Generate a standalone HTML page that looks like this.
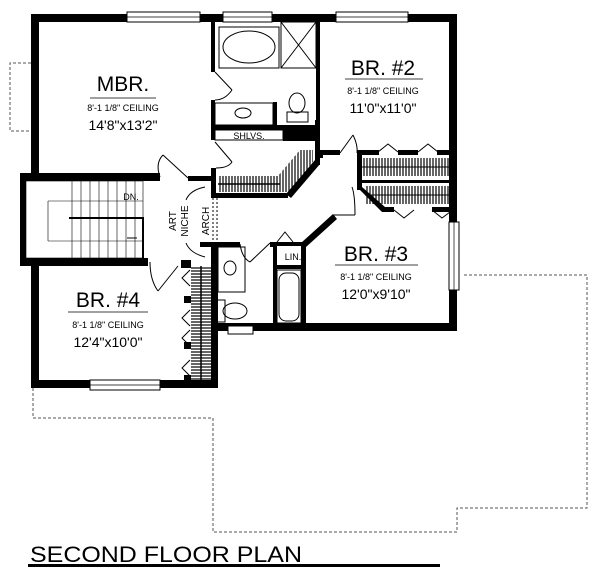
<!DOCTYPE html>
<html><head><meta charset="utf-8"><style>
html,body{margin:0;padding:0;background:#fff;}
svg{display:block;}
text{font-family:"Liberation Sans",sans-serif;fill:#000;}
</style></head><body>
<svg width="600" height="588" viewBox="0 0 600 588" xmlns="http://www.w3.org/2000/svg">
<defs>
<pattern id="hatch" width="3" height="6" patternUnits="userSpaceOnUse"><rect width="3" height="6" fill="#fff"/><line x1="1" y1="0" x2="1" y2="6" stroke="#000" stroke-width="1.2"/></pattern>
<pattern id="hatchH" width="6" height="3" patternUnits="userSpaceOnUse"><rect width="6" height="3" fill="#fff"/><line x1="0" y1="1" x2="6" y2="1" stroke="#000" stroke-width="1.2"/></pattern>
</defs>
<g fill="none" stroke="#555" stroke-width="1" stroke-dasharray="3,2">
<polyline points="31,63 10,63 10,131 31,131"/>
<polyline points="33,388 33,418 213,418 213,532 457,532 457,508 587,508 587,275 462,275"/>
</g>
<rect x="218" y="176" width="60" height="16" fill="url(#hatch)"/>
<polygon points="278,176 300,150 313,150 313,162 290,192 278,192" fill="url(#hatch)"/>
<rect x="360" y="158" width="89" height="18" fill="url(#hatch)"/>
<rect x="365" y="186" width="84" height="18" fill="url(#hatch)"/>
<rect x="191" y="266" width="20" height="116" fill="url(#hatchH)"/>
<line x1="201" y1="266" x2="201" y2="382" stroke="#000" stroke-width="1.5"/>
<line x1="218" y1="184" x2="280" y2="184" stroke="#000" stroke-width="1.5"/>
<line x1="360" y1="167" x2="449" y2="167" stroke="#000" stroke-width="1"/>
<line x1="365" y1="195" x2="449" y2="195" stroke="#000" stroke-width="1"/>
<g fill="#000">
<rect x="31" y="14" width="426" height="8"/>
<rect x="31" y="14" width="8" height="164"/>
<rect x="20" y="173" width="140" height="8"/>
<rect x="20" y="173" width="6" height="93"/>
<rect x="20" y="258" width="128" height="8"/>
<rect x="31" y="258" width="8" height="130"/>
<rect x="31" y="380" width="187" height="8"/>
<rect x="211" y="243" width="7" height="145"/>
<rect x="449" y="14" width="8" height="210"/>
<rect x="449" y="290" width="8" height="41"/>
<rect x="211" y="323" width="246" height="8"/>
<rect x="211" y="22" width="4" height="50"/>
<rect x="211" y="100" width="4" height="40"/>
<rect x="211" y="168" width="5" height="30"/>
<rect x="188" y="176" width="27" height="5"/>
<rect x="273" y="102" width="4" height="23"/>
<rect x="316" y="22" width="4" height="102"/>
<rect x="211" y="125" width="109" height="5"/>
<rect x="283" y="130" width="32" height="11"/>
<rect x="315" y="120" width="5" height="45"/>
<polygon points="315,160 320,164 291,198 286,194"/>
<rect x="212" y="193" width="76" height="5"/>
<rect x="318" y="150" width="5" height="8"/>
<rect x="320" y="150" width="20" height="5"/>
<rect x="357" y="150" width="22" height="5"/>
<rect x="398" y="150" width="20" height="5"/>
<rect x="437" y="150" width="14" height="5"/>
<rect x="357" y="150" width="5" height="40"/>
<rect x="357" y="180" width="93" height="3"/>
<polygon points="357,187 362,187 385,207 382,212"/>
<rect x="382" y="207" width="12" height="5"/>
<rect x="432" y="207" width="18" height="5"/>
<rect x="200" y="242" width="40" height="5"/>
<rect x="270" y="242" width="5" height="5"/>
<rect x="273" y="242" width="32" height="4"/>
<rect x="273" y="242" width="4" height="89"/>
<rect x="301" y="242" width="5" height="89"/>
<rect x="273" y="265" width="33" height="4"/>
<polygon points="301,243 333,214 337,219 306,247"/>
<rect x="181" y="260" width="10" height="8"/>
<rect x="184" y="296" width="7" height="7"/>
<rect x="184" y="342" width="7" height="7"/>
<rect x="184" y="375" width="7" height="8"/>
</g>
<g fill="#fff" stroke="#000" stroke-width="1">
<rect x="127" y="12" width="73" height="10"/><rect x="223" y="12" width="49" height="10"/><rect x="336" y="12" width="72" height="10"/>
<rect x="90" y="380" width="70" height="10"/><rect x="449" y="222" width="10" height="68"/><rect x="228" y="326" width="25" height="8"/>
</g>
<g stroke="#000" stroke-width="0.7" fill="none">
<line x1="127" y1="17" x2="200" y2="17"/><line x1="223" y1="17" x2="272" y2="17"/><line x1="336" y1="17" x2="408" y2="17"/>
<line x1="90" y1="385" x2="160" y2="385"/><line x1="454" y1="222" x2="454" y2="290"/>
</g>
<g fill="none" stroke="#000" stroke-width="1">
<rect x="219" y="27" width="60" height="41"/><ellipse cx="249" cy="47" rx="26" ry="16"/>
<rect x="281" y="22" width="35" height="46"/><line x1="281" y1="22" x2="316" y2="68"/><line x1="316" y1="22" x2="281" y2="68"/>
<rect x="215" y="103" width="58" height="22"/><ellipse cx="243" cy="113" rx="8" ry="5"/>
<ellipse cx="297" cy="103" rx="8" ry="10"/><rect x="287" y="112" width="21" height="10"/>
<rect x="215" y="130" width="68" height="10"/>
<rect x="218" y="247" width="27" height="45"/><ellipse cx="230" cy="268" rx="6" ry="7"/>
<ellipse cx="235" cy="311" rx="12" ry="8"/><rect x="217" y="300" width="8" height="22"/>
<rect x="277" y="270" width="24" height="53"/><rect x="279" y="273" width="20" height="48" rx="7"/>
<line x1="215" y1="72" x2="232" y2="90"/><path d="M232,90 Q225,100 215,100"/>
<line x1="215" y1="142" x2="232" y2="162"/><path d="M232,162 Q228,168 216,168"/>
<line x1="163" y1="155" x2="188" y2="178"/><path d="M163,155 Q155,163 160,177"/>
<line x1="158" y1="291" x2="178" y2="266"/><path d="M158,291 Q150,280 150,262"/>
<line x1="250" y1="262" x2="270" y2="243"/><path d="M250,262 Q242,258 240,244"/>
<line x1="340" y1="153" x2="353" y2="135"/><path d="M353,135 Q358,145 357,153"/>
<line x1="333" y1="215" x2="355" y2="215"/><path d="M355,215 Q355,195 352,187"/>
<path d="M277,242 L285,232 L293,242"/>
<path d="M378,152 l10,-8 l10,8 M418,152 l10,-8 l10,8"/>
<path d="M394,210 l10,8 l10,-8 M432,210 l10,8 l8,-6"/>
<path d="M190,270 l-8,8 l8,8 M190,310 l-8,8 l8,8 M190,330 l-8,8 l8,8 M190,360 l-8,8 l8,8"/>
<rect x="26" y="181" width="117" height="77" stroke-width="0.6"/>
<line x1="48" y1="201" x2="48" y2="241" stroke-width="0.6"/><line x1="48" y1="201" x2="143" y2="201" stroke-width="0.6"/><line x1="48" y1="241" x2="143" y2="241" stroke-width="0.6"/>
<line x1="72" y1="181" x2="72" y2="258" stroke-width="0.6"/><line x1="81" y1="181" x2="81" y2="258" stroke-width="0.6"/><line x1="90" y1="181" x2="90" y2="258" stroke-width="0.6"/><line x1="99" y1="181" x2="99" y2="258" stroke-width="0.6"/><line x1="108" y1="181" x2="108" y2="258" stroke-width="0.6"/><line x1="117" y1="181" x2="117" y2="258" stroke-width="0.6"/><line x1="126" y1="181" x2="126" y2="258" stroke-width="0.6"/><line x1="135" y1="181" x2="135" y2="258" stroke-width="0.6"/>
<polyline points="69,218 143,218 143,258" stroke-width="2"/><line x1="127" y1="238" x2="137" y2="238"/>
<line x1="213" y1="198" x2="213" y2="242" stroke-dasharray="2,2"/><line x1="217" y1="198" x2="217" y2="242" stroke-dasharray="2,2"/>
<path d="M186,200 Q190,190 205,187"/><path d="M186,243 Q190,253 205,257"/>
<line x1="90" y1="98" x2="156" y2="98" stroke-width="0.8"/><line x1="345" y1="79" x2="423" y2="79" stroke-width="0.8"/>
<line x1="335" y1="265" x2="418" y2="265" stroke-width="0.8"/><line x1="68" y1="312" x2="148" y2="312" stroke-width="0.8"/>
</g>
<g text-anchor="middle">
<text x="123" y="91" font-size="21">MBR.</text>
<text x="123" y="111" font-size="9">8'-1 1/8" CEILING</text>
<text x="123" y="130" font-size="14">14'8"x13'2"</text>
<text x="383" y="75" font-size="21">BR. #2</text>
<text x="383" y="94" font-size="9">8'-1 1/8" CEILING</text>
<text x="383" y="113" font-size="14">11'0"x11'0"</text>
<text x="376" y="261" font-size="21">BR. #3</text>
<text x="376" y="280" font-size="9">8'-1 1/8" CEILING</text>
<text x="376" y="299" font-size="14">12'0"x9'10"</text>
<text x="108" y="307" font-size="21">BR. #4</text>
<text x="108" y="328" font-size="9">8'-1 1/8" CEILING</text>
<text x="108" y="347" font-size="14">12'4"x10'0"</text>
<text x="249" y="139" font-size="9">SHLVS.</text>
<text x="293" y="260" font-size="9">LIN.</text>
<text x="131" y="200" font-size="9">DN.</text>
<text transform="translate(176,221) rotate(-90)" font-size="10">ART</text>
<text transform="translate(188,221) rotate(-90)" font-size="10">NICHE</text>
<text transform="translate(209,221) rotate(-90)" font-size="10">ARCH</text>
</g>
<text x="30" y="562" font-size="22" textLength="272" lengthAdjust="spacingAndGlyphs">SECOND FLOOR PLAN</text>
<rect x="28" y="564" width="412" height="3" fill="#000"/>
</svg>
</body></html>
